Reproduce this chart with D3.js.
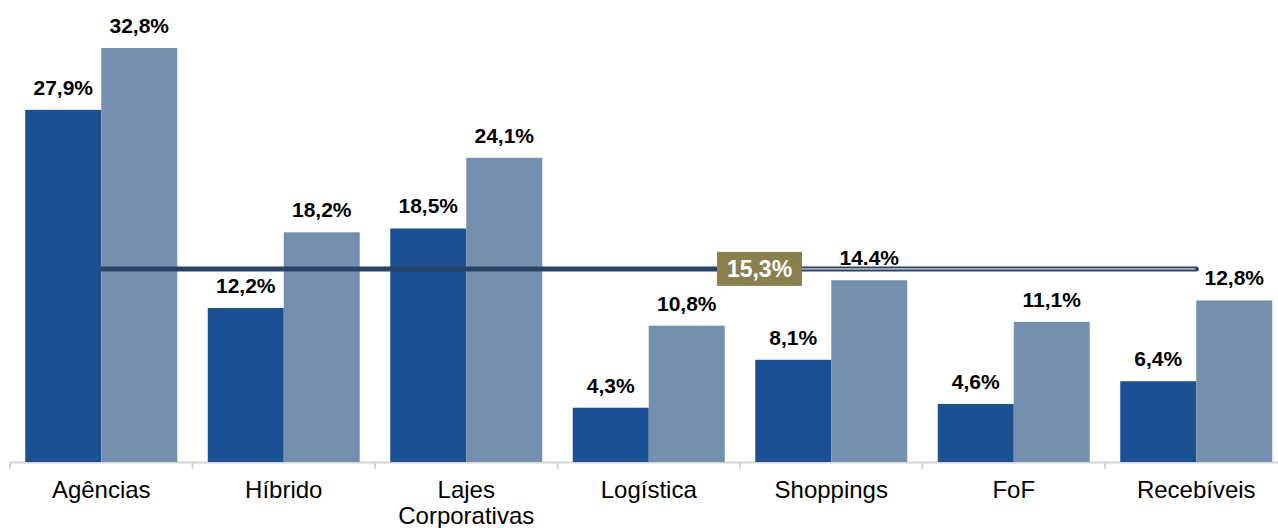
<!DOCTYPE html>
<html>
<head>
<meta charset="utf-8">
<script src="https://cdn.jsdelivr.net/npm/d3@7"></script>
<style>
  html, body { margin: 0; padding: 0; background: #fff; }
  svg { display: block; font-family: Arial, "Liberation Sans", sans-serif; }
</style>
</head>
<body>
<div id="chart"></div>
<script>
// categorias e valores
var categories = ['Agências', 'Híbrido', 'Lajes|Corporativas', 'Logística', 'Shoppings', 'FoF', 'Recebíveis']
var serieA = [27.9, 12.2, 18.5, 4.3, 8.1, 4.6, 6.4]
var serieB = [32.8, 18.2, 24.1, 10.8, 14.4, 11.1, 12.8]
var labelsA = ['27,9%', '12,2%', '18,5%', '4,3%', '8,1%', '4,6%', '6,4%']
var labelsB = ['32,8%', '18,2%', '24,1%', '10,8%', '14.4%', '11,1%', '12,8%']
var media = 15.3
var mediaLabel = '15,3%'

var width = 1278,
    height = 528,
    baseY = 462,
    colorA = '#1B5094',
    colorB = '#7590AF',
    lineColor = '#2A4468',
    axisColor = '#D4D4D4'

var svg = d3.select('#chart').append('svg')
    .attr('width', width)
    .attr('height', height)

var x = d3.scaleBand()
    .domain(d3.range(categories.length))
    .range([10, 10 + 182.5 * categories.length])
    .paddingInner(0)
    .paddingOuter(0)

var inner = d3.scaleBand()
    .domain([0, 1])
    .range([15.25, x.bandwidth() - 15.25])

var y = d3.scaleLinear()
    .domain([0, 32.8])
    .range([baseY, 48])

// eixo de baixo
var xAxis = svg.append('g')
    .attr('transform', 'translate(0,' + baseY + ')')
    .call(d3.axisBottom(x).tickSize(0).tickFormat(''))
xAxis.select('.domain').attr('stroke', axisColor).attr('stroke-width', 2)

// marcas entre categorias
svg.append('g').selectAll('line')
    .data(d3.range(categories.length + 1))
    .enter().append('line')
    .attr('x1', d => 10 + d * x.step())
    .attr('x2', d => 10 + d * x.step())
    .attr('y1', baseY)
    .attr('y2', baseY + 7)
    .attr('stroke', axisColor)
    .attr('stroke-width', 2)

// barras
var groups = svg.append('g').selectAll('g')
    .data(categories)
    .enter().append('g')
    .attr('transform', (d, i) => 'translate(' + x(i) + ',0)')

groups.append('rect')
    .attr('x', inner(0))
    .attr('width', inner.bandwidth())
    .attr('y', (d, i) => y(serieA[i]))
    .attr('height', (d, i) => baseY - y(serieA[i]))
    .attr('fill', colorA)

groups.append('rect')
    .attr('x', inner(1))
    .attr('width', inner.bandwidth())
    .attr('y', (d, i) => y(serieB[i]))
    .attr('height', (d, i) => baseY - y(serieB[i]))
    .attr('fill', colorB)

// linha da média
var x1 = x(0) + x.bandwidth() / 2,
    x2 = x(categories.length - 1) + x.bandwidth() / 2
svg.append('line')
    .attr('x1', x1).attr('x2', x2)
    .attr('y1', y(media)).attr('y2', y(media))
    .attr('stroke', lineColor)
    .attr('stroke-width', 5)
    .attr('stroke-linecap', 'round')

// rótulos
groups.append('text')
    .attr('x', inner(0) + inner.bandwidth() / 2)
    .attr('y', (d, i) => y(serieA[i]) - 15)
    .attr('text-anchor', 'middle')
    .style('font-size', '21px')
    .style('font-weight', 'bold')
    .attr('fill', '#000')
    .text((d, i) => labelsA[i])

groups.append('text')
    .attr('x', inner(1) + inner.bandwidth() / 2)
    .attr('y', (d, i) => y(serieB[i]) - 15)
    .attr('text-anchor', 'middle')
    .style('font-size', '21px')
    .style('font-weight', 'bold')
    .attr('fill', '#000')
    .text((d, i) => labelsB[i])

// caixa da média
var boxX = x(4) - 23,
    boxW = 85,
    boxH = 34
svg.append('line')
    .attr('x1', boxX + boxW).attr('x2', x2 - 1)
    .attr('y1', y(media)).attr('y2', y(media))
    .attr('stroke', '#A9AEB6')
    .attr('stroke-width', 1.6)
svg.append('rect')
    .attr('x', boxX)
    .attr('y', y(media) - boxH / 2)
    .attr('width', boxW)
    .attr('height', boxH)
    .attr('fill', '#8C7F4E')
svg.append('text')
    .attr('x', boxX + boxW / 2)
    .attr('y', y(media) + 8)
    .attr('text-anchor', 'middle')
    .style('font-size', '23px')
    .style('font-weight', 'bold')
    .attr('fill', '#fff')
    .text(mediaLabel)

// nomes das categorias
var catText = svg.append('g').selectAll('text')
    .data(categories)
    .enter().append('text')
    .attr('x', (d, i) => x(i) + x.bandwidth() / 2)
    .attr('y', 498)
    .attr('text-anchor', 'middle')
    .style('font-size', '24px')
    .attr('fill', '#000')
catText.selectAll('tspan')
    .data(d => d.split('|'))
    .enter().append('tspan')
    .attr('x', function () { return d3.select(this.parentNode).attr('x') })
    .attr('dy', (d, i) => (i === 0 ? 0 : 26))
    .text(d => d)
</script>
</body>
</html>
